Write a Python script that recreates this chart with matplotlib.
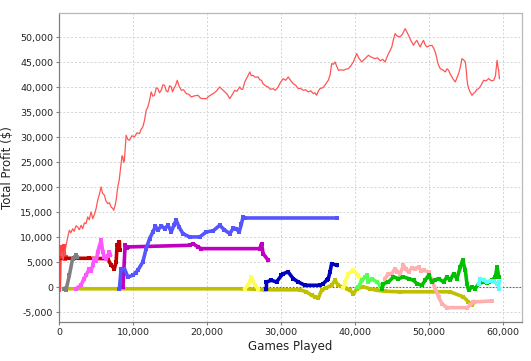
import matplotlib
matplotlib.use("Agg")
import matplotlib.pyplot as plt
from matplotlib.ticker import FuncFormatter

# ---------------- data (games played, total profit $) ----------------
main_pts = [
    (200, 5800), (350, 7200), (500, 5400), (700, 6800), (900, 8200), (1100, 9800),
    (1355, 11400), (1550, 10900), (1800, 11700), (2000, 11200), (2250, 12300), (2480, 12070),
    (2700, 11500), (2950, 12400), (3160, 11730), (3400, 12900), (3610, 12730), (3840, 14070),
    (4050, 13500), (4290, 15070), (4520, 13730), (4750, 14600), (4970, 15730), (5190, 17400),
    (5400, 18500), (5645, 20070), (5850, 18800), (6100, 18400), (6300, 17300), (6550, 16730),
    (6780, 16900), (7000, 16070), (7200, 15800), (7360, 15400), (7520, 16300), (7680, 17400),
    (7900, 20070), (8100, 21500), (8250, 23500), (8350, 24730), (8480, 26300), (8580, 26070),
    (8700, 25000), (8800, 25400), (9030, 30400), (9250, 29600), (9490, 29400), (9800, 30300),
    (10160, 30070), (10500, 30900), (10840, 30730), (11050, 31600), (11290, 32070),
    (11520, 33400), (11740, 35400), (11950, 36000), (12200, 37400), (12420, 39070),
    (12650, 38200), (12870, 38400), (13100, 39900), (13320, 39730), (13550, 38900),
    (13800, 39500), (14000, 40500), (14230, 40400), (14450, 39300), (14680, 39070),
    (14900, 40300), (15130, 40070), (15300, 39100), (15500, 39800), (15700, 40300),
    (15940, 41400), (16200, 40200), (16490, 39400), (16800, 39500), (17160, 38730),
    (17500, 38600), (17840, 38070), (18300, 38300), (18740, 38400), (19100, 37800),
    (19420, 37730), (19870, 37730), (20300, 38300), (20780, 38730), (21200, 39200),
    (21680, 40070), (22000, 39600), (22360, 39070), (22700, 38600), (23040, 37730),
    (23400, 38600), (23710, 39400), (24000, 39200), (24390, 40070), (24600, 39600),
    (24800, 39600), (25050, 41000), (25290, 41730), (25500, 42300), (25750, 43070),
    (25950, 42300), (26190, 42400), (26500, 42000), (26870, 42070), (27100, 41500),
    (27330, 41400), (27550, 40700), (27780, 40400), (28000, 40200), (28230, 40070),
    (28500, 39600), (28900, 39730), (29200, 39400), (29580, 40070), (29900, 41000),
    (30260, 41730), (30600, 41400), (30940, 42070), (31300, 41300), (31610, 40730),
    (31950, 40400), (32290, 39730), (32600, 39800), (32970, 39400), (33300, 39500),
    (33650, 39070), (34000, 39300), (34330, 38730), (34550, 38900), (34780, 38400),
    (35000, 39200), (35230, 39730), (35600, 39900), (35910, 40400), (36150, 41000),
    (36360, 41400), (36600, 42500), (36810, 44730), (37050, 44600), (37260, 45070),
    (37500, 44200), (37720, 43400), (38050, 43500), (38390, 43400), (38700, 43600),
    (39070, 43730), (39400, 44300), (39740, 45070), (40000, 46000), (40200, 46730),
    (40500, 45800), (40880, 45070), (41300, 45700), (41780, 46400), (42200, 46000),
    (42680, 45730), (43000, 45900), (43400, 45300), (43700, 45600), (44040, 45070),
    (44250, 45900), (44490, 46730), (44700, 47300), (44940, 48070), (45150, 49500),
    (45390, 50730), (45700, 50200), (46070, 50070), (46400, 50700), (46750, 51730),
    (47000, 51000), (47200, 50400), (47500, 49400), (47880, 48400), (48100, 49000),
    (48330, 49400), (48550, 48700), (48780, 48070), (49000, 48800), (49230, 49400),
    (49450, 48500), (49680, 48070), (50000, 48300), (50360, 48400), (50600, 47800),
    (50810, 47070), (51000, 46000), (51120, 45070), (51300, 44300), (51490, 43730),
    (51800, 43500), (52170, 43070), (52400, 43700), (52620, 43400), (52850, 42600),
    (53070, 42070), (53300, 41500), (53520, 41070), (53750, 41900), (53970, 42730),
    (54200, 44000), (54420, 45730), (54650, 45500), (54880, 45070), (55000, 43500),
    (55100, 41730), (55200, 40500), (55330, 39730), (55550, 39000), (55780, 38400),
    (56000, 38800), (56230, 39070), (56450, 39600), (56680, 39730), (57000, 40400),
    (57360, 41400), (57700, 41300), (58030, 41730), (58400, 41300), (58720, 41400),
    (58950, 42300), (59170, 45400), (59300, 44000), (59390, 43400), (59480, 41730),
]
main_x = [p[0] for p in main_pts]
main_y = [p[1] for p in main_pts]

lred_x = [0, 120, 250, 450, 600, 750, 900]
lred_y = [-500, 8000, 6600, 6000, 8300, 5600, 6000]

dred_x = [300, 2000, 4000, 6550, 7000, 7450, 7680, 7810, 8130, 8150]
dred_y = [5800, 5800, 5800, 5730, 4400, 3730, 5070, 8400, 9070, 7500]

gray_x = [680, 900, 1355, 1800, 2260, 2400]
gray_y = [-270, -600, 2400, 5730, 6400, 6000]

mag_x = [2260, 2940, 3300, 3610, 4065, 4300, 4520, 4740, 5000, 5190, 5645, 5870, 6100, 6320,
         6550, 6775, 6900]
mag_y = [-270, 400, 1600, 2400, 3730, 3300, 4400, 5730, 5200, 7070, 9400, 7070, 6070, 5730,
         6300, 7070, 6500]

blue_x = [8130, 8350, 8800, 9260, 9940, 10300, 10610, 11290, 11740, 12200, 12650, 13000,
          13320, 13800, 14230, 14700, 15130, 15500, 15800, 16200, 16710, 17610, 18970, 19870,
          20800, 21680, 22300, 23040, 23500, 23940, 24300, 24620, 24840, 25070, 37490]
blue_y = [-270, 3730, 3730, 2070, 2400, 2900, 3400, 5070, 7730, 9730, 11070, 12200, 11400,
          12300, 11730, 12400, 11070, 12500, 13400, 12000, 10730, 10070, 10070, 11070, 11300,
          12400, 11500, 10730, 11800, 11730, 11000, 12730, 14070, 13860, 13860]

purp_x = [8600, 8900, 9100, 9260, 17610, 18070, 18740, 19200, 27100, 27330, 27550, 28230]
purp_y = [0, 8500, 7800, 8070, 8400, 8730, 8070, 7730, 7730, 8730, 6730, 5400]

olive_x = [700, 25000, 27800, 32500, 33400, 34100, 34600, 35000, 35450, 36100, 36800,
           37260, 37700, 38600, 39300, 39750, 40200, 41100, 42000, 42900, 44000, 46000,
           52800, 54600, 55300, 55780, 56100]
olive_y = [-300, -300, -500, -500, -900, -1600, -1900, -2200, -600, -100, 400, 1400, 400,
           -200, -600, -1300, -300, 100, -300, -600, -800, -900, -900, -1900, -2900, -3600,
           -2900]

yel1_x = [25070, 25520, 25970, 26420, 26870]
yel1_y = [-270, 400, 2070, 400, -270]

yel2_x = [38400, 38620, 39070, 39740, 40420, 40880]
yel2_y = [-200, 1070, 2730, 3400, 2400, 1070]

dblue_x = [28000, 28000, 28680, 29360, 30030, 30260, 30940, 31610, 32290, 33200, 35230,
           35680, 36130, 36360, 36590, 36810, 37490]
dblue_y = [-270, 1070, 1400, 1070, 2400, 2730, 3070, 1730, 1070, 400, 400, 730, 1400, 1730,
           3070, 4730, 4400]

lgreen_x = [40420, 40880, 41330, 41550, 41780, 42230, 42910, 43360]
lgreen_y = [70, 1400, 2070, 2400, 1070, 1730, 1070, 400]

pink_x = [44040, 44490, 44940, 45390, 45700, 46070, 46520, 46850, 47200, 47650, 48100, 48550,
          48900, 49230, 49910, 50360, 50810, 51260, 51710, 52390, 55100, 55500, 55980, 58490]
pink_y = [1730, 2730, 2730, 3730, 3100, 2730, 4400, 3600, 3070, 3900, 3730, 4070, 3300, 3400,
          3070, 1400, -270, -1930, -3270, -4070, -4070, -3600, -2930, -2730]

green_x = [43590, 43810, 44490, 45170, 45840, 46520, 47200, 47880, 48330, 49010, 49460,
           49910, 50360, 50810, 51260, 51940, 52390, 52850, 53290, 53750, 54200, 54510,
           54880, 55100, 55330, 55780, 56230, 56680, 57360, 57810, 58030, 58490, 58940,
           59170, 59390]
green_y = [-270, 730, 1070, 2070, 1730, 2070, 1730, 1400, 730, 400, 1400, 2400, 1070, 1500,
           1730, 1070, 2070, 1400, 2730, 1730, 4070, 5400, 3400, 730, -600, 70, -270, 730,
           1100, 900, 1070, 1400, 2070, 4070, 2070]

cyan_x = [56680, 56910, 57360, 57810, 58300, 58720, 59170, 59390, 59390]
cyan_y = [730, 1730, 1400, 1070, 1300, 1200, 730, 1070, -270]

x_ticks = [0, 10000, 20000, 30000, 40000, 50000, 60000]
y_ticks = [-5000, 0, 5000, 10000, 15000, 20000, 25000, 30000, 35000, 40000, 45000, 50000]

# ---------------- figure ----------------
plt.rcParams['font.family'] = ['DejaVu Sans']
fig = plt.figure(figsize=(5.31, 3.61), dpi=100)
ax = fig.add_axes([0.1117, 0.1089, 0.8708, 0.8551])
ax.set_xlim(0, 62500)
ax.set_ylim(-6880, 54860)

ax.grid(True, color='#d4d4d4', linestyle=(0, (2, 2)), linewidth=0.7)
ax.set_axisbelow(True)
ax.axhline(0, color='#5a5ad0', linestyle=(0, (1.5, 1.5)), linewidth=0.8, zorder=1)

thick = dict(linewidth=2.6, marker='s', markersize=2.8, markeredgewidth=0)

ax.plot(olive_x, olive_y, color='#c0c000', **thick, zorder=2)
ax.plot(yel1_x, yel1_y, color='#ffff55', **thick, zorder=2)
ax.plot(yel2_x, yel2_y, color='#ffff55', **thick, zorder=2)
ax.plot(lred_x, lred_y, color='#ff4040', **thick, zorder=3)
ax.plot(dred_x, dred_y, color='#c00000', **thick, zorder=3)
ax.plot(gray_x, gray_y, color='#808080', **thick, zorder=3)
ax.plot(mag_x, mag_y, color='#ff55ff', **thick, zorder=3)
ax.plot(purp_x, purp_y, color='#c000c0', **thick, zorder=3)
ax.plot(blue_x, blue_y, color='#5555ff', **thick, zorder=4)
ax.plot(dblue_x, dblue_y, color='#0000c0', **thick, zorder=3)
ax.plot(lgreen_x, lgreen_y, color='#55ff55', **thick, zorder=3)
ax.plot(pink_x, pink_y, color='#ffafaf', **thick, zorder=3)
ax.plot(green_x, green_y, color='#00c000', **thick, zorder=4)
ax.plot(cyan_x, cyan_y, color='#55ffff', **thick, zorder=4)
ax.plot(main_x, main_y, color='#ff5555', linewidth=0.9, zorder=5)

ax.set_xticks(x_ticks)
ax.set_yticks(y_ticks)
fmt = FuncFormatter(lambda v, p: f"{int(round(v)):,}")
ax.xaxis.set_major_formatter(fmt)
ax.yaxis.set_major_formatter(fmt)
ax.tick_params(axis='both', direction='out', length=2.5, width=0.8, color='#808080',
               labelsize=6.8, labelcolor='#222222', pad=2)

for side in ['left', 'bottom']:
    ax.spines[side].set_color('#808080')
for side in ['top', 'right']:
    ax.spines[side].set_color('#b8b8b8')
for s in ax.spines.values():
    s.set_linewidth(0.9)

ax.set_xlabel('Games Played', fontsize=8.5, color='#222222', labelpad=2)
ax.set_ylabel('Total Profit ($)', fontsize=8.5, color='#222222', labelpad=4)

fig.savefig('out.png', dpi=100, facecolor='white')
